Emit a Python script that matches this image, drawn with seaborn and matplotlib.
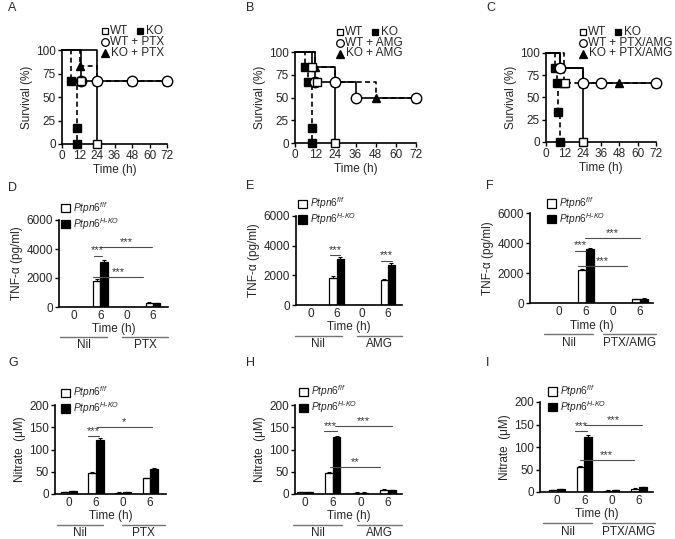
import pandas as pd
import seaborn as sns
import matplotlib.pyplot as plt
from matplotlib.patches import Patch
from matplotlib.lines import Line2D

# ---- survival data: (time h, survival %) step points per curve ----
A_WT = ([0, 24], [100, 0])
A_KO = ([0, 6, 10, 10], [100, 66.7, 16.7, 0])
A_WT_drug = ([0, 13, 24, 48, 72], [100, 66.7, 66.7, 66.7, 66.7])
A_KO_drug = ([0, 12, 24, 48, 72], [100, 83.3, 66.7, 66.7, 66.7])
A_extra = ([13], [66.7])

B_WT = ([0, 10, 24], [100, 83.3, 0])
B_KO = ([0, 6, 8, 10, 10], [100, 83.3, 66.7, 16.7, 0])
B_WT_drug = ([0, 12, 24, 36, 72], [100, 66.7, 66.7, 50, 50])
B_KO_drug = ([0, 12, 24, 48, 72], [100, 83.3, 66.7, 50, 50])
B_extra = ([13], [66.7])

C_WT = ([0, 9, 24], [100, 83.3, 0])
C_KO = ([0, 6, 7, 8, 9], [100, 83.3, 66.7, 33.3, 0])
C_WT_drug = ([0, 9, 24, 36, 72], [100, 83.3, 66.7, 66.7, 66.7])
C_KO_drug = ([0, 12, 24, 48, 72], [100, 66.7, 66.7, 66.7, 66.7])
C_extra = ([12.5], [66.7])

drugs = ["PTX", "AMG", "PTX/AMG"]
time_ticks = [0, 12, 24, 36, 48, 60, 72]

# ---- bar data: categories Nil-0, Nil-6, drug-0, drug-6 ----
bar_cats = ["0", "6", "0 ", "6 "]
geno = ["f/f", "H-KO"]

D_wt, D_ko = [0, 1800, 0, 300], [0, 3100, 0, 280]
D_wt_err, D_ko_err = [0, 100, 0, 30], [0, 150, 0, 30]
E_wt, E_ko = [0, 1850, 0, 1700], [0, 3100, 0, 2700]
E_wt_err, E_ko_err = [0, 80, 0, 70], [0, 150, 0, 150]
F_wt, F_ko = [0, 2200, 0, 250], [0, 3600, 0, 300]
F_wt_err, F_ko_err = [0, 100, 0, 30], [0, 100, 0, 40]

G_wt, G_ko = [5, 48, 3, 35], [6, 122, 4, 57]
G_wt_err, G_ko_err = [0.5, 1.5, 0.5, 1.5], [0.5, 3, 0.5, 1.5]
H_wt, H_ko = [4, 47, 3, 10], [5, 127, 3, 9]
H_wt_err, H_ko_err = [0.5, 1.5, 0.5, 1], [0.5, 3, 0.5, 1]
I_wt, I_ko = [5, 56, 3, 7], [6, 123, 4, 11]
I_wt_err, I_ko_err = [0.5, 1.5, 0.5, 1], [0.5, 3, 0.5, 1]

# significance: (x1, x2, y, label)
D_sig = [(0.75, 1.05, 3550, "***"), (1.0, 2.95, 4150, "***"), (0.73, 2.63, 2080, "***")]
E_sig = [(0.75, 1.15, 3350, "***"), (2.75, 3.15, 3000, "***")]
F_sig = [(0.6, 1.0, 3500, "***"), (0.98, 3.0, 4330, "***"), (0.72, 2.5, 2440, "***")]
G_sig = [(0.7, 1.1, 130, "***"), (1.02, 3.06, 150, "*")]
H_sig = [(0.7, 1.15, 141, "***"), (1.08, 3.14, 153, "***"), (0.9, 2.7, 60, "**")]
I_sig = [(0.65, 1.1, 136, "***"), (1.03, 3.1, 149, "***"), (0.84, 2.8, 71, "***")]

sns.set_style("ticks")
plt.rcParams["font.family"] = ["Liberation Sans", "DejaVu Sans"]
plt.rcParams["mathtext.fontset"] = "custom"
plt.rcParams["mathtext.it"] = "Liberation Sans:italic"
plt.rcParams["mathtext.rm"] = "Liberation Sans"
FS = 8.5

fig = plt.figure(figsize=(6.75, 5.39), dpi=100)


def box(L, T, R, B):
    return [L / 675, 1 - B / 539, (R - L) / 675, (B - T) / 539]


def style_axes(ax):
    for s in ["top", "right"]:
        ax.spines[s].set_visible(False)
    for s in ["left", "bottom"]:
        ax.spines[s].set_linewidth(1.2)
        ax.spines[s].set_color("black")
    ax.tick_params(labelsize=FS, width=1.0, length=3, color="black", pad=1.5)


def fig_marker(x, y, mk, fc, ms):
    fig.add_artist(Line2D([x / 675], [1 - y / 539], transform=fig.transFigure,
                          ls="none", marker=mk, mfc=fc, mec="black", mew=0.9, ms=ms))


def fig_label(x, y, txt):
    fig.text(x / 675, 1 - y / 539, txt, fontsize=FS, va="center", ha="left")


def survival(rect, letter, curves, extra, drug, legend_xy):
    ax = fig.add_axes(box(*rect))
    style_axes(ax)
    (wt, ko, wtd, kod) = curves
    specs = [
        (kod, "--", "^", "black", 6),
        (ko, "--", "s", "black", 5.5),
        (wt, "-", "s", "white", 5.5),
        (wtd, "-", "o", "white", 7.5),
    ]
    for (t, s), ls, mk, fc, ms in specs:
        ax.plot(t, s, drawstyle="steps-post", ls=ls, color="black", lw=1.2,
                dashes=(3, 2) if ls == "--" else (None, None), clip_on=False)
        ax.plot(t[1:], s[1:], ls="none", marker=mk, mfc=fc, mec="black",
                mew=1.0, ms=ms, clip_on=False, zorder=4)
    ax.plot(extra[0], extra[1], ls="none", marker="s", mfc="white", mec="black",
            mew=1.0, ms=5.5, clip_on=False, zorder=4)
    ax.set_xlim(0, 72)
    ax.set_ylim(0, 100)
    ax.set_xticks(time_ticks)
    ax.set_yticks([0, 25, 50, 75, 100])
    ax.set_xlabel("Time (h)", fontsize=FS, labelpad=1)
    ax.set_ylabel("Survival (%)", fontsize=FS, labelpad=2)
    lx, ly = legend_xy
    # legend rows drawn as markers + text
    fig_marker(lx + 3, ly, "s", "white", 5)
    fig_label(lx + 8, ly, "WT")
    fig_marker(lx + 38, ly, "s", "black", 5)
    fig_label(lx + 44, ly, "KO")
    fig_marker(lx + 3, ly + 11, "o", "white", 5.5)
    fig_label(lx + 8, ly + 11, "WT + " + drug)
    fig_marker(lx + 3, ly + 21.5, "^", "black", 5.5)
    fig_label(lx + 9, ly + 21.5, "KO + " + drug)
    fig.text(letter[1] / 675, 1 - 8 / 539, letter[0], fontsize=9, va="center")


survival((62, 50, 167, 144), ("A", 8), (A_WT, A_KO, A_WT_drug, A_KO_drug), A_extra, drugs[0], (102, 31))
survival((295, 52, 416, 143), ("B", 246), (B_WT, B_KO, B_WT_drug, B_KO_drug), B_extra, drugs[1], (337, 32))
survival((546, 53, 656, 142), ("C", 486), (C_WT, C_KO, C_WT_drug, C_KO_drug), C_extra, drugs[2], (580, 32))


def bars(rect, letter, wt, ko, wt_err, ko_err, sig, drug, ylim, yticks, ylabel,
         xlim, nil_span, drug_span, leg_xy):
    ax = fig.add_axes(box(*rect))
    df = pd.DataFrame({
        "cat": bar_cats * 2,
        "geno": [geno[0]] * 4 + [geno[1]] * 4,
        "val": wt + ko,
    })
    sns.barplot(data=df, x="cat", y="val", hue="geno", order=bar_cats,
                hue_order=geno, palette={geno[0]: "white", geno[1]: "black"},
                edgecolor="black", linewidth=0.9, width=0.56, gap=0,
                errorbar=None, legend=False, ax=ax)
    for cont, errs in zip(ax.containers, [wt_err, ko_err]):
        for bar, e in zip(cont, errs):
            if e > 0:
                ax.errorbar(bar.get_x() + bar.get_width() / 2, bar.get_height(),
                            yerr=[[0], [e]], color="black", elinewidth=0.8,
                            capsize=1.5, capthick=0.8)
    style_axes(ax)
    ax.tick_params(axis="x", length=0, pad=2)
    ax.set_xlim(*xlim)
    ax.set_ylim(*ylim)
    ax.set_yticks(yticks)
    ax.set_xticks(range(4))
    ax.set_xticklabels(["0", "6", "0", "6"])
    ax.set_xlabel("")
    ax.set_ylabel(ylabel, fontsize=FS, labelpad=2)
    ax.text(0.5, -0.25, "Time (h)", transform=ax.transAxes, ha="center",
            va="center", fontsize=FS)
    tr = ax.get_xaxis_transform()
    for span, name in [(nil_span, "Nil"), (drug_span, drug)]:
        ax.plot(span, [-0.345, -0.345], transform=tr, color="0.45", lw=1.0,
                clip_on=False)
        ax.text(sum(span) / 2, -0.44, name, transform=tr, ha="center",
                va="center", fontsize=FS)
    for x1, x2, y, lab in sig:
        ax.plot([x1, x2], [y, y], color="0.3", lw=0.8)
        ax.text((x1 + x2) / 2, y, lab, ha="center", va="bottom",
                fontsize=8, color="0.2")
    handles = [Patch(facecolor="white", edgecolor="black", lw=0.9),
               Patch(facecolor="black", edgecolor="black", lw=0.9)]
    labels = [r"$\mathit{Ptpn6}^{\mathit{f/f}}$", r"$\mathit{Ptpn6}^{\mathit{H\text{-}KO}}$"]
    ax.legend(handles, labels, loc="upper left", bbox_to_anchor=leg_xy,
              frameon=False, fontsize=7.3, borderpad=0, borderaxespad=0,
              labelspacing=0.0, handlelength=0.9, handleheight=0.9,
              handletextpad=0.3)
    fig.text(letter[1] / 675, 1 - letter[2] / 539, letter[0], fontsize=9,
             va="center")


tnf_lab = "TNF-\u03b1 (pg/ml)"
no_lab = "Nitrate  (\u03bcM)"
tnf_ticks = [0, 2000, 4000, 6000]
no_ticks = [0, 50, 100, 150, 200]

bars((59, 220, 168, 307), ("D", 8, 188), D_wt, D_ko, D_wt_err, D_ko_err, D_sig,
     drugs[0], (0, 6000), tnf_ticks, tnf_lab, (-0.57, 3.57), (-0.53, 1.25),
     (1.82, 3.57), (0.02, 1.23))
bars((296, 216, 402, 305), ("E", 246, 186), E_wt, E_ko, E_wt_err, E_ko_err, E_sig,
     drugs[1], (0, 6000), tnf_ticks, tnf_lab, (-0.58, 3.55), (-0.62, 1.2),
     (1.8, 3.54), (0.02, 1.23))
bars((530, 213, 653, 303), ("F", 486, 186), F_wt, F_ko, F_wt_err, F_ko_err, F_sig,
     drugs[2], (0, 6000), tnf_ticks, tnf_lab, (-1.07, 3.48), (-0.55, 1.26),
     (1.63, 3.6), (0.14, 1.2))
bars((55, 405, 166, 494), ("G", 8, 363), G_wt, G_ko, G_wt_err, G_ko_err, G_sig,
     drugs[0], (0, 200), no_ticks, no_lab, (-0.52, 3.59), (-0.44, 1.26),
     (1.96, 3.56), (0.05, 1.23))
bars((295, 405, 402, 494), ("H", 246, 363), H_wt, H_ko, H_wt_err, H_ko_err, H_sig,
     drugs[1], (0, 200), no_ticks, no_lab, (-0.36, 3.5), (-0.43, 1.33),
     (1.88, 3.5), (0.04, 1.24))
bars((540, 402, 653, 492), ("I", 486, 363), I_wt, I_ko, I_wt_err, I_ko_err, I_sig,
     drugs[2], (0, 200), no_ticks, no_lab, (-0.62, 3.51), (-0.51, 1.28),
     (1.65, 3.59), (0.07, 1.21))

fig.savefig("out.png", dpi=100)
